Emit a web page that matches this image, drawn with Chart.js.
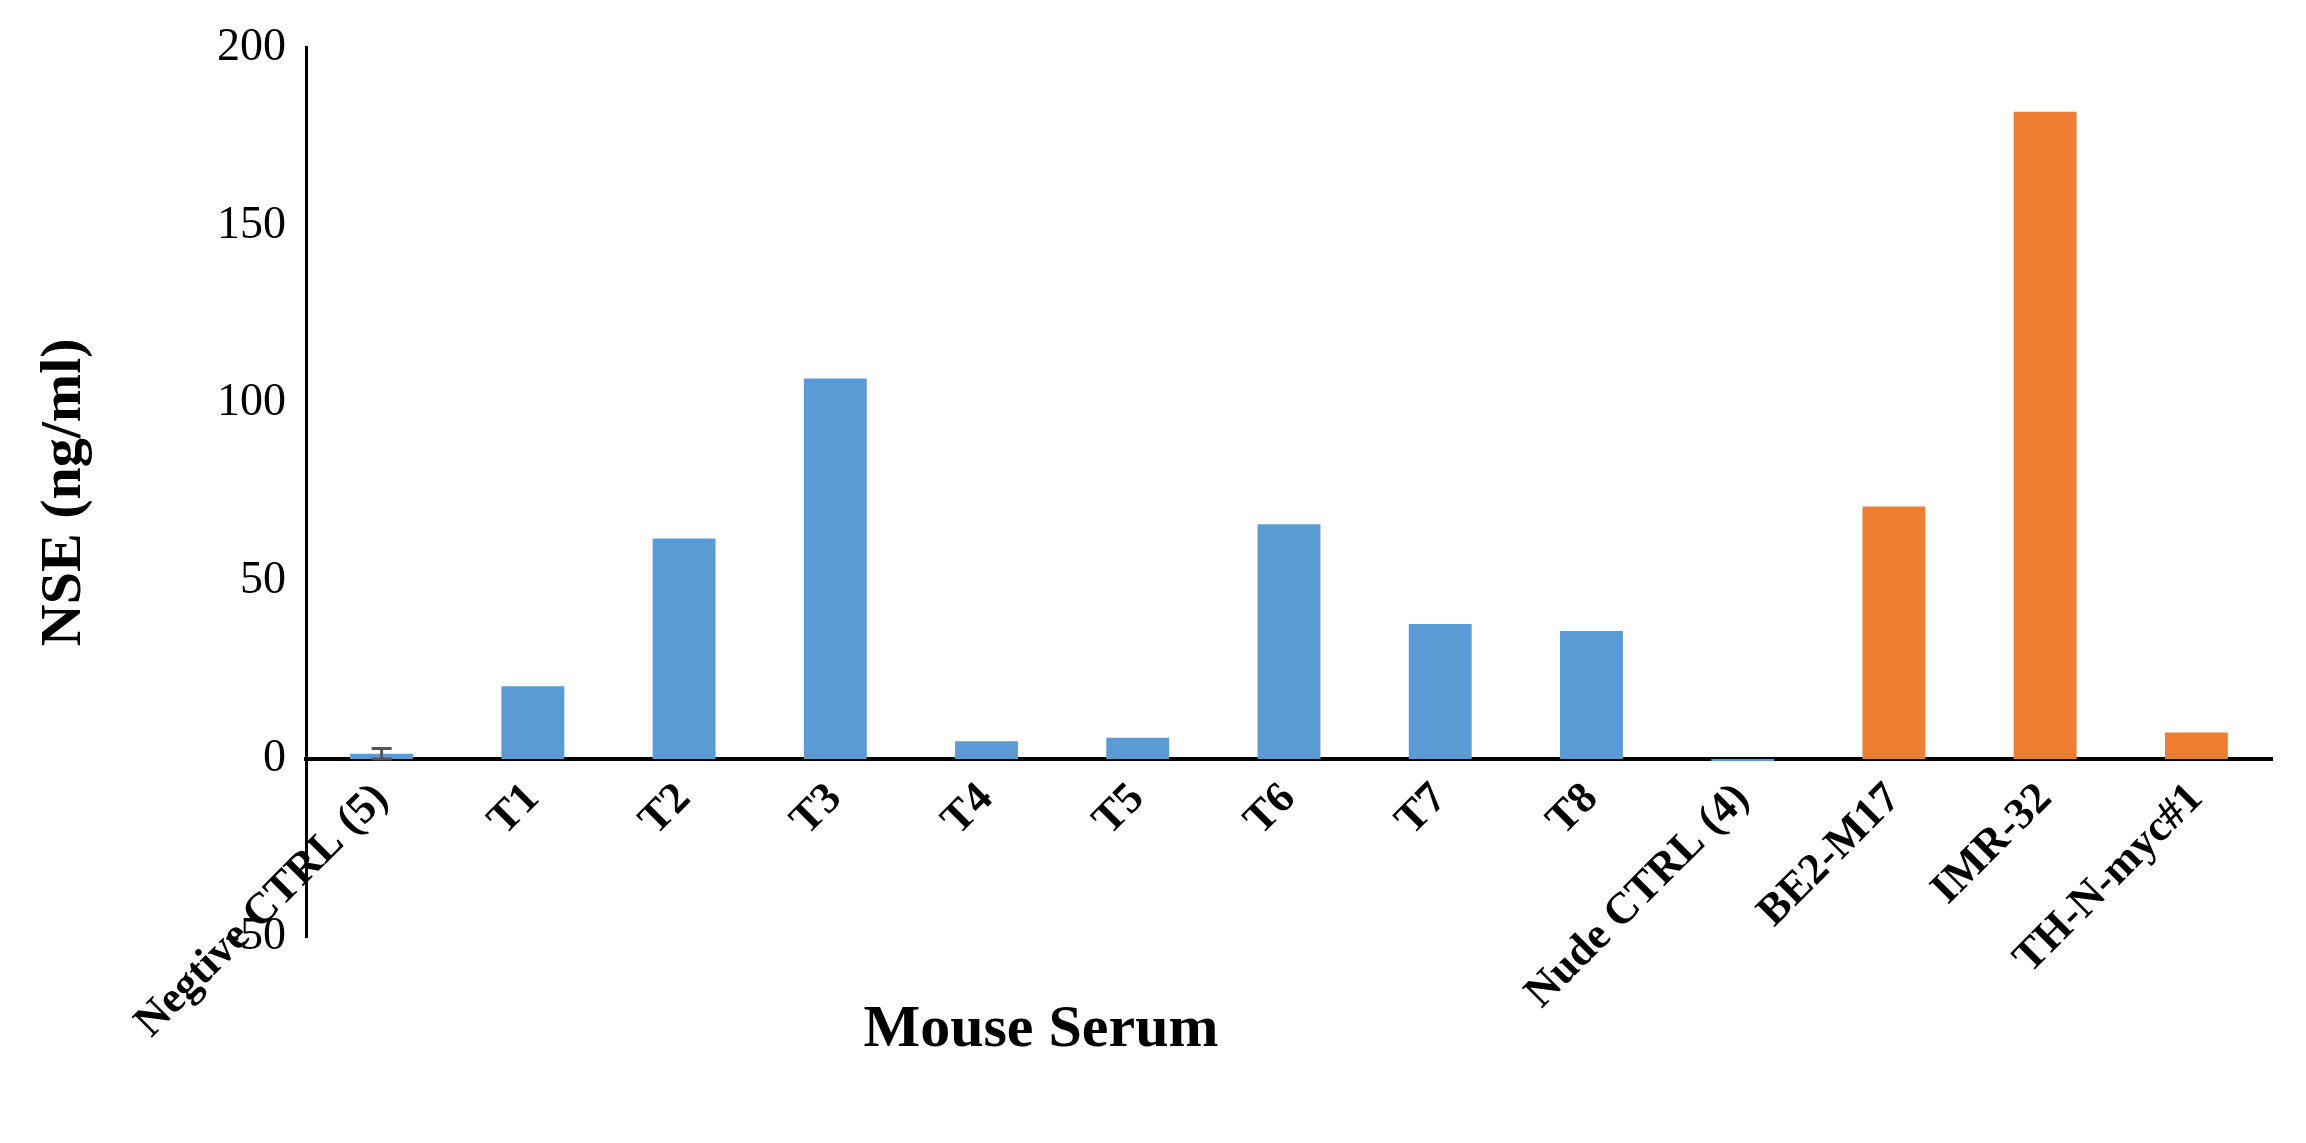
<!DOCTYPE html>
<html><head><style>html,body{margin:0;background:#fff}#w{width:2306px;height:1143px}</style>
<script src="https://cdn.jsdelivr.net/npm/chart.js"></script></head><body><div id="w"><canvas id="c"></canvas></div>
<script>
const categories=["Negtive CTRL (5)","T1","T2","T3","T4","T5","T6","T7","T8","Nude CTRL (4)","BE2-M17","IMR-32","TH-N-myc#1"];
const values=[1.5,20.5,62,107,5,6,66,38,36,-0.5,71,182,7.5];
const errors=[1.5,0,0,0,0,0,0,0,0,0,0,0,0];
const colors=["#5B9BD5","#5B9BD5","#5B9BD5","#5B9BD5","#5B9BD5","#5B9BD5","#5B9BD5","#5B9BD5","#5B9BD5","#5B9BD5","#ED7D31","#ED7D31","#ED7D31"];
const yTicks=[-50,0,50,100,150,200];
const serif="'Liberation Serif','DejaVu Serif',serif";
const errPlugin={id:'err',afterDatasetsDraw(ch){const ctx=ch.ctx,x=ch.scales.x,y=ch.scales.y;ctx.save();ctx.strokeStyle='#555';ctx.lineWidth=3;
values.forEach((v,i)=>{if(!errors[i])return;const px=x.getPixelForValue(i);const t=y.getPixelForValue(v+errors[i]);const b=y.getPixelForValue(v-errors[i]);
ctx.beginPath();ctx.moveTo(px,t);ctx.lineTo(px,b);ctx.moveTo(px-10,t);ctx.lineTo(px+10,t);ctx.moveTo(px-10,b);ctx.lineTo(px+10,b);ctx.stroke();});
ctx.fillStyle='#000';ctx.font="bold 60px "+serif;ctx.textAlign='center';ctx.textBaseline='middle';ctx.fillText('Mouse Serum',1041,1030);ctx.restore();}};
new Chart(document.getElementById('c'),{type:'bar',data:{labels:categories,datasets:[{data:values,backgroundColor:colors,barPercentage:0.8,categoryPercentage:0.52}]},
options:{responsive:true,maintainAspectRatio:false,animation:false,layout:{padding:{left:20,right:34,top:44,bottom:206}},
plugins:{legend:{display:false},tooltip:{enabled:false}},
scales:{x:{position:{y:0},grid:{display:false,drawTicks:false},border:{color:'#000',width:4},
ticks:{color:'#000',font:{family:serif,size:44,weight:'bold'},maxRotation:45,minRotation:45,padding:14}},
y:{min:-50,max:200,afterFit(s){s.width=286;},afterBuildTicks(s){s.ticks=yTicks.map(v=>({value:v}));},grid:{display:false,drawTicks:false},border:{color:'#000',width:3},
ticks:{color:'#000',font:{family:serif,size:46},padding:20},
title:{display:true,text:'NSE (ng/ml)',color:'#000',font:{family:serif,size:58,weight:'bold'},padding:10}}}},plugins:[errPlugin]});
</script></body></html>
